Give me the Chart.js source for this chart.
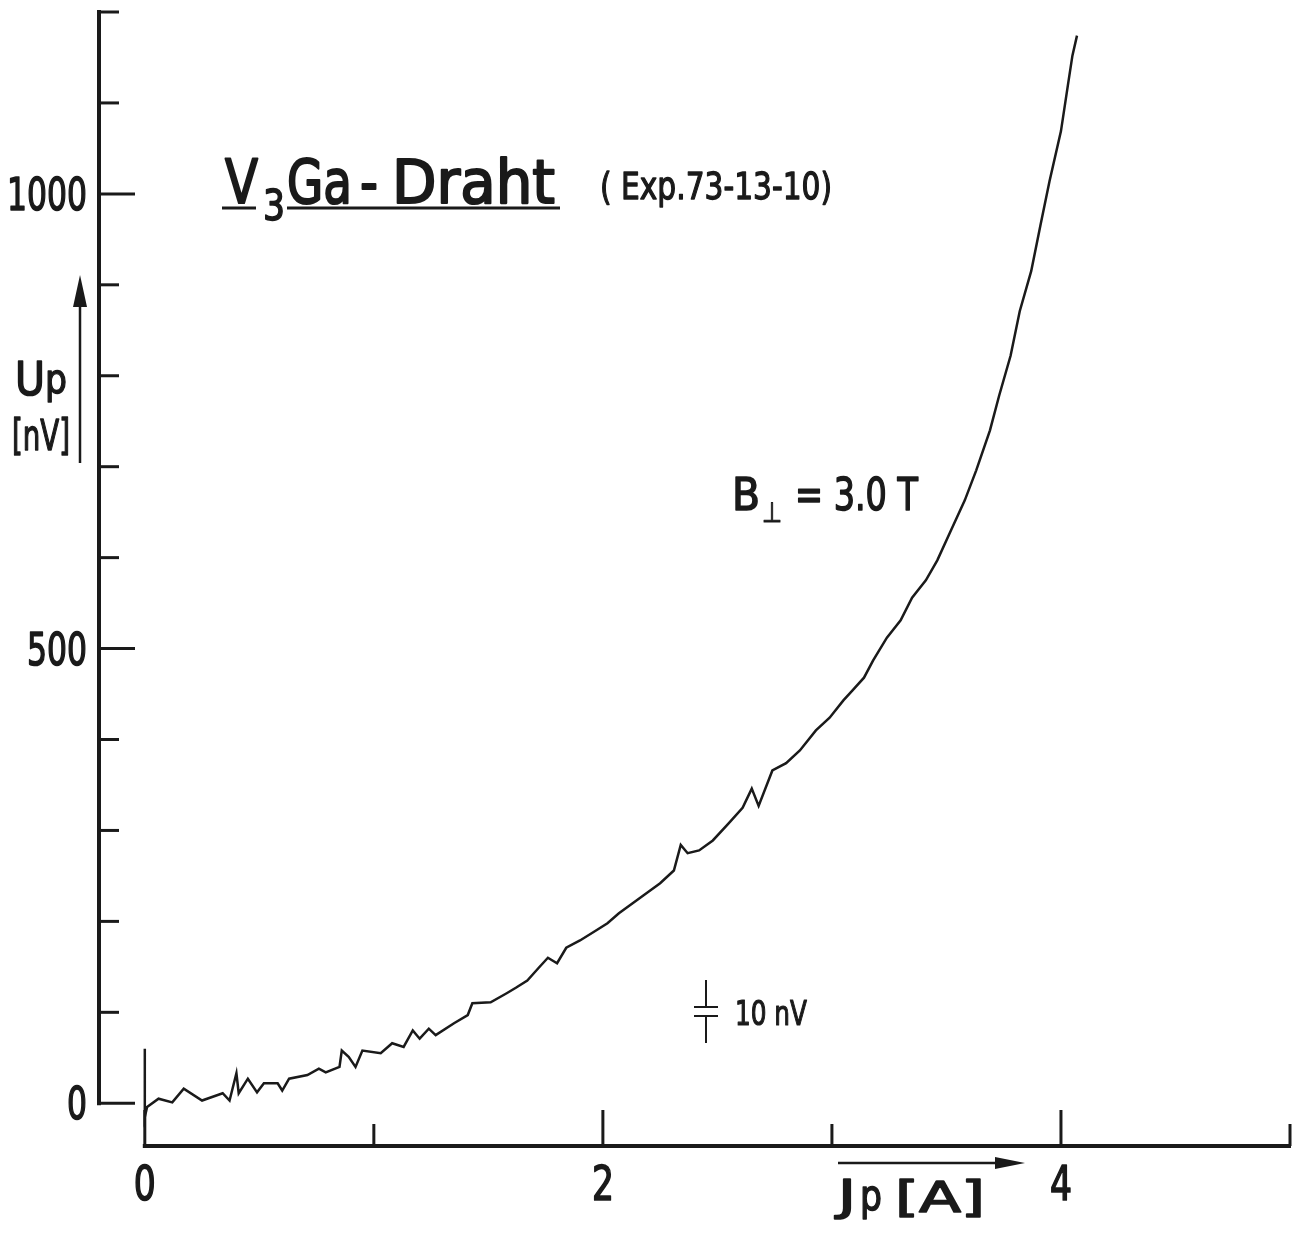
<!DOCTYPE html>
<html>
<head>
<meta charset="utf-8">
<script src="https://cdn.jsdelivr.net/npm/chart.js@4.4.1/dist/chart.umd.min.js"></script>
<style>
  html, body { margin: 0; padding: 0; background: #fff; }
  canvas { display: block; }
</style>
</head>
<body>
<canvas id="chart" width="1299" height="1233"></canvas>
<script>
// Jp [A] and Up [nV]
const currentA = [
  0, 0, 0, 0.01, 0.06, 0.12, 0.17, 0.25, 0.34, 0.37, 0.40, 0.41, 0.45, 0.49, 0.52,
  0.58, 0.60, 0.63, 0.71, 0.76, 0.79, 0.85, 0.86, 0.89, 0.92, 0.95, 1.03, 1.08, 1.13,
  1.17, 1.20, 1.24, 1.27, 1.35, 1.41, 1.43, 1.51, 1.58, 1.62, 1.67, 1.72, 1.76, 1.80,
  1.84, 1.90, 1.97, 2.02, 2.07, 2.13, 2.19, 2.25, 2.31, 2.34, 2.37, 2.42, 2.48, 2.55,
  2.61, 2.65, 2.68, 2.74, 2.80, 2.86, 2.93, 2.99, 3.05, 3.09, 3.14, 3.18, 3.24, 3.30,
  3.35, 3.41, 3.46, 3.52, 3.58, 3.63, 3.69, 3.73, 3.78, 3.82, 3.87, 3.91, 3.95, 4.00,
  4.03, 4.05, 4.07
];
const voltageNV = [
  0, 60, -15, -4, 5, 1, 16, 3, 11, 3, 33, 11, 27, 12, 22,
  22, 14, 27, 31, 38, 34, 40, 58, 51, 40, 58, 55, 66, 62,
  80, 71, 82, 75, 88, 97, 110, 111, 121, 127, 135, 149, 160, 154,
  171, 179, 190, 198, 209, 220, 231, 242, 256, 284, 275, 278, 289, 308,
  325, 346, 327, 366, 374, 388, 410, 424, 443, 454, 468, 487, 512, 531,
  556, 575, 597, 630, 663, 696, 740, 778, 822, 871, 915, 965, 1014, 1069,
  1119, 1152, 1174
];

const xTicks = [0, 1, 2, 3, 4, 5];
const xTickLabels = ['0', '', '2', '', '4', ''];
const yTicks = [0, 100, 200, 300, 400, 500, 600, 700, 800, 900, 1000, 1100, 1200];
const yTickLabels = ['0', '', '', '', '', '500', '', '', '', '', '1000', '', ''];

const INK = '#1a1a1a';
const FONT = "'DejaVu Sans', sans-serif";

// draw text squeezed to a given width (the original lettering is condensed, medium weight)
function fitText(ctx, s, x, base, size, width, align = 'left') {
  ctx.save();
  ctx.font = size + 'px ' + FONT;
  const w = ctx.measureText(s).width;
  const sx = width / w;
  let x0 = x;
  if (align === 'right') x0 = x - width;
  if (align === 'center') x0 = x - width / 2;
  ctx.translate(x0, base);
  ctx.scale(sx, 1);
  ctx.textAlign = 'left';
  ctx.textBaseline = 'alphabetic';
  ctx.fillStyle = INK;
  ctx.strokeStyle = INK;
  ctx.lineWidth = size / 28;
  ctx.lineJoin = 'round';
  ctx.fillText(s, 0, 0);
  ctx.strokeText(s, 0, 0);
  ctx.restore();
}

function line(ctx, x1, y1, x2, y2, w) {
  ctx.beginPath();
  ctx.lineWidth = w;
  ctx.moveTo(x1, y1);
  ctx.lineTo(x2, y2);
  ctx.stroke();
}

function arrowHead(ctx, tx, ty, dx, dy, len, half) {
  // tip at (tx,ty), pointing along (dx,dy)
  const bx = tx - dx * len, by = ty - dy * len;
  ctx.beginPath();
  ctx.moveTo(tx, ty);
  ctx.lineTo(bx - dy * half, by + dx * half);
  ctx.lineTo(bx + dy * half, by - dx * half);
  ctx.closePath();
  ctx.fill();
}

const axesPlugin = {
  id: 'recorderAxes',
  afterDraw(chart) {
    const ctx = chart.ctx;
    const xs = chart.scales.x, ys = chart.scales.y;
    const area = chart.chartArea;
    ctx.save();
    ctx.strokeStyle = INK;
    ctx.fillStyle = INK;
    ctx.lineCap = 'butt';

    // y axis, ticks pointing inwards
    const yAxisX = area.left;
    line(ctx, yAxisX, ys.getPixelForValue(yTicks[yTicks.length - 1]) - 2, yAxisX, ys.getPixelForValue(0) + 2, 4);
    yTicks.forEach((v, i) => {
      const py = ys.getPixelForValue(v);
      const len = yTickLabels[i] ? 36 : 20;
      line(ctx, yAxisX, py, yAxisX + len, py, 3);
      if (yTickLabels[i]) {
        fitText(ctx, yTickLabels[i], yAxisX - 12, py + 16, 45, yTickLabels[i].length * 20, 'right');
      }
    });

    // x axis, ticks pointing up
    const xAxisY = area.bottom;
    line(ctx, xs.getPixelForValue(0) - 2, xAxisY, xs.getPixelForValue(xTicks[xTicks.length - 1]) + 1, xAxisY, 4);
    xTicks.forEach((v, i) => {
      const px = xs.getPixelForValue(v);
      const len = xTickLabels[i] ? 36 : 22;
      line(ctx, px, xAxisY, px, xAxisY - len, 3);
      if (xTickLabels[i]) {
        fitText(ctx, xTickLabels[i], px, xAxisY + 54, 48, 22, 'center');
      }
    });

    // title
    fitText(ctx, 'V', 225, 203, 60, 33);
    fitText(ctx, '3', 263, 220, 42, 22);
    fitText(ctx, 'Ga', 287, 203, 60, 65);
    fitText(ctx, '-', 360, 203, 60, 18);
    fitText(ctx, 'Draht', 392, 203, 60, 163);
    line(ctx, 222, 208, 256, 208, 3);
    line(ctx, 287, 208, 560, 208, 3);
    fitText(ctx, '( Exp.73-13-10)', 600, 199, 38, 232);

    // y axis title with arrow
    fitText(ctx, 'U', 15, 395, 46, 30);
    fitText(ctx, 'p', 45, 393, 40, 22);
    fitText(ctx, '[nV]', 12, 450, 42, 58);
    line(ctx, 80, 463, 80, 300, 2.5);
    arrowHead(ctx, 80, 275, 0, -1, 32, 7);

    // field annotation
    fitText(ctx, 'B', 732, 510, 44, 28);
    fitText(ctx, '\u22A5', 762, 522, 28, 20);
    fitText(ctx, '= 3.0 T', 795, 510, 44, 123);

    // 10 nV scale marker
    line(ctx, 706, 980, 706, 1007, 2);
    line(ctx, 706, 1016, 706, 1043, 2);
    line(ctx, 694, 1007, 718, 1007, 2);
    line(ctx, 694, 1016, 718, 1016, 2);
    fitText(ctx, '10 nV', 735, 1025, 34, 72);

    // x axis title with arrow
    line(ctx, 838, 1163, 1000, 1163, 2.5);
    arrowHead(ctx, 1025, 1163, 1, 0, 30, 6);
    fitText(ctx, 'J', 838, 1210, 42, 18);
    fitText(ctx, 'p', 860, 1210, 42, 22);
    fitText(ctx, '[A]', 895, 1212, 42, 90);

    ctx.restore();
  }
};

new Chart(document.getElementById('chart'), {
  type: 'scatter',
  data: {
    datasets: [{
      data: currentA.map((x, i) => ({ x: x, y: voltageNV[i] })),
      showLine: true,
      borderColor: INK,
      borderWidth: 2.5,
      pointRadius: 0,
      tension: 0,
      fill: false,
    }],
  },
  options: {
    responsive: false,
    animation: false,
    layout: { padding: { left: 0, top: 12, right: 9, bottom: 0 } },
    plugins: {
      legend: { display: false },
      tooltip: { enabled: false },
      title: { display: false },
    },
    scales: {
      x: {
        type: 'linear',
        min: -0.2,
        max: 5,
        grid: { display: false },
        border: { display: false },
        ticks: { display: false },
        afterBuildTicks: (s) => { s.ticks = xTicks.map((v) => ({ value: v })); },
        afterFit: (s) => { s.height = 87; },
      },
      y: {
        type: 'linear',
        min: -47,
        max: 1200,
        grid: { display: false },
        border: { display: false },
        ticks: { display: false },
        afterBuildTicks: (s) => { s.ticks = yTicks.map((v) => ({ value: v })); },
        afterFit: (s) => { s.width = 99; },
      },
    },
  },
  plugins: [axesPlugin],
});
</script>
</body>
</html>
